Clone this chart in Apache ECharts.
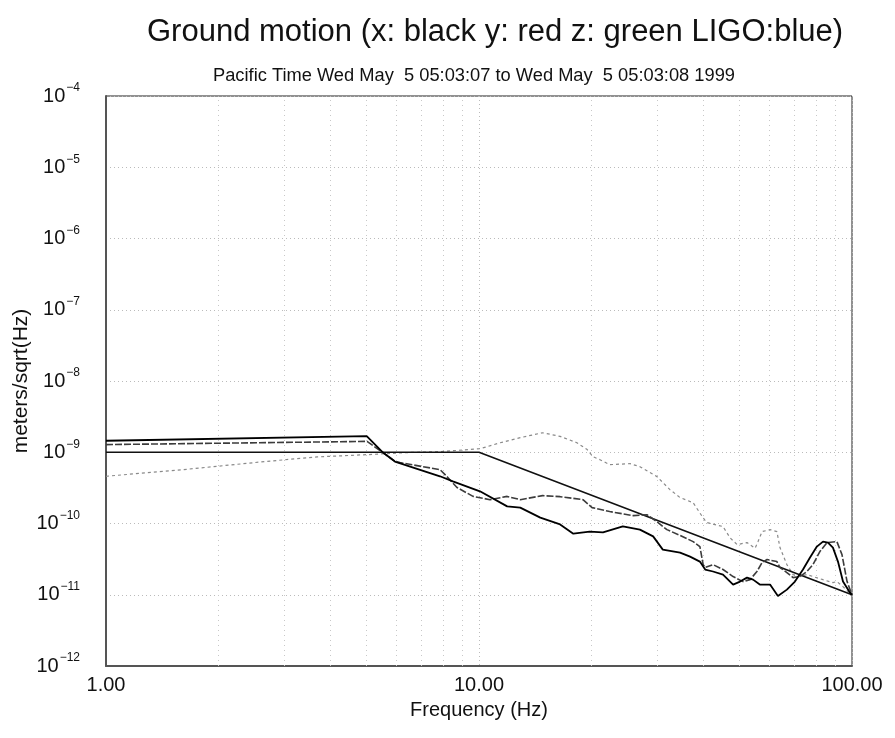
<!DOCTYPE html>
<html><head><meta charset="utf-8">
<script src="https://cdn.jsdelivr.net/npm/echarts@6/dist/echarts.min.js"></script>
<style>html,body{margin:0;padding:0;background:#fff}#chart{width:895px;height:738px}</style>
</head><body><div id="chart"></div>
<script>
const titleText = 'Ground motion (x: black y: red z: green LIGO:blue)';
const subtitleText = 'Pacific Time Wed May  5 05:03:07 to Wed May  5 05:03:08 1999';
const xAxisName = 'Frequency (Hz)';
const yAxisName = 'meters/sqrt(Hz)';
const xRange = [1, 100];
const yRange = [1e-12, 1e-4];

// x: black
const freqX = [1, 5.0, 5.53, 5.95, 7.86, 8.51, 10.06, 11.9, 12.9, 14.6, 16.5, 17.9, 19.8, 21.5, 24.3, 27.0, 29.3, 31.1, 34.6, 36.8, 39.1, 40.4, 42.4, 45.1, 48.0, 50.1, 52.3, 54.3, 56.6, 60.3, 63.3, 66.9, 70.3, 73.9, 77.1, 80.5, 83.6, 86.2, 88.9, 91.7, 94.6, 98.8, 100];
const ampX = [1.45e-9, 1.68e-9, 9.9e-10, 7.4e-10, 4.6e-10, 3.9e-10, 2.83e-10, 1.74e-10, 1.67e-10, 1.21e-10, 9.7e-11, 7.2e-11, 7.7e-11, 7.5e-11, 9.1e-11, 8.2e-11, 6.6e-11, 4.3e-11, 3.9e-11, 3.43e-11, 2.92e-11, 2.26e-11, 2.12e-11, 1.92e-11, 1.39e-11, 1.53e-11, 1.74e-11, 1.63e-11, 1.39e-11, 1.39e-11, 9.6e-12, 1.18e-11, 1.53e-11, 2.26e-11, 3.3e-11, 4.74e-11, 5.57e-11, 5.4e-11, 4.59e-11, 2.92e-11, 1.53e-11, 1.07e-11, 1.0e-11];

// y: red
const freqY = [1, 5.01, 5.95, 6.14, 7.86, 8.11, 8.73, 9.64, 10.7, 11.9, 12.9, 14.8, 16.5, 19.0, 20.1, 22.4, 25.9, 28.2, 30.0, 31.9, 34.6, 37.5, 39.1, 39.9, 40.4, 42.4, 45.1, 48.0, 51.0, 53.3, 55.6, 57.4, 59.2, 62.9, 64.1, 66.9, 69.5, 72.5, 75.7, 78.6, 82.0, 85.7, 91.1, 94.0, 97.0, 100];
const ampY = [1.28e-9, 1.42e-9, 7.5e-10, 7.15e-10, 5.7e-10, 4.85e-10, 3.2e-10, 2.4e-10, 2.16e-10, 2.4e-10, 2.16e-10, 2.46e-10, 2.38e-10, 2.16e-10, 1.67e-10, 1.47e-10, 1.29e-10, 1.33e-10, 1.06e-10, 8.2e-11, 6.8e-11, 5.57e-11, 4.74e-11, 2.65e-11, 2.41e-11, 2.65e-11, 2.26e-11, 1.8e-11, 1.53e-11, 1.63e-11, 2.12e-11, 2.83e-11, 3.12e-11, 2.92e-11, 2.41e-11, 2.05e-11, 1.74e-11, 1.8e-11, 2.12e-11, 2.65e-11, 4.04e-11, 5.4e-11, 5.57e-11, 3.66e-11, 1.53e-11, 1.0e-11];

// z: green
const freqZ = [1, 1.61, 2.70, 3.68, 5.0, 6.41, 7.86, 10.06, 11.4, 12.9, 14.8, 16.5, 18.3, 19.5, 20.2, 21.1, 22.4, 25.4, 27.0, 30.0, 32.5, 34.6, 37.5, 39.9, 40.8, 45.1, 47.1, 49.2, 52.3, 55.0, 56.0, 57.4, 60.3, 62.9, 64.1, 66.9, 69.5, 72.5, 75.7, 78.6, 83.6, 88.9, 91.1, 94.6, 97.6, 100];
const ampZ = [4.6e-10, 5.7e-10, 7.45e-10, 8.6e-10, 9.25e-10, 9.9e-10, 1.02e-9, 1.12e-9, 1.36e-9, 1.6e-9, 1.88e-9, 1.67e-9, 1.36e-9, 1.09e-9, 8.67e-10, 7.87e-10, 6.7e-10, 6.92e-10, 6.28e-10, 4.55e-10, 2.99e-10, 2.31e-10, 1.96e-10, 1.2e-10, 1.03e-10, 9.06e-11, 6.3e-11, 5.06e-11, 5.4e-11, 4.5e-11, 5.6e-11, 7.7e-11, 8.2e-11, 7.7e-11, 4.6e-11, 2.65e-11, 1.92e-11, 1.8e-11, 1.92e-11, 1.8e-11, 1.63e-11, 1.48e-11, 1.53e-11, 1.3e-11, 1.11e-11, 1.0e-11];

// LIGO: blue
const freqLigo = [1, 10, 100];
const ampLigo = [1e-9, 1e-9, 1e-11];

// minor log grid
const minorMultipliers = [2, 3, 4, 5, 6, 7, 8, 9];
const xDecades = [1, 10];
const yDecadeExps = [-12, -11, -10, -9, -8, -7, -6, -5];

const FONT = 'Liberation Sans';
const zip = (a, b) => a.map((v, i) => [v, b[i]]);

const gridMarks = [];
xDecades.forEach(d => minorMultipliers.forEach(m => gridMarks.push({ xAxis: d * m })));
yDecadeExps.forEach(e => minorMultipliers.forEach(m => gridMarks.push({ yAxis: m * Math.pow(10, e) })));

const chart = echarts.init(document.getElementById('chart'), null, { renderer: 'canvas' });
chart.setOption({
  animation: false,
  backgroundColor: '#fff',
  title: [
    { text: titleText, left: 142, top: 12, padding: 5,
      textStyle: { fontFamily: FONT, fontSize: 31, fontWeight: 'normal', color: '#111' } },
    { text: subtitleText, left: 208, top: 62, padding: 5,
      textStyle: { fontFamily: FONT, fontSize: 18.3, fontWeight: 'normal', color: '#111' } }
  ],
  grid: { left: 106, right: 43, top: 96, bottom: 72, containLabel: false, outerBoundsMode: 'none',
    show: true, borderColor: '#222', borderWidth: 1, backgroundColor: 'transparent' },
  xAxis: {
    type: 'log', logBase: 10, min: xRange[0], max: xRange[1],
    name: xAxisName, nameLocation: 'middle', nameGap: 34, nameMoveOverlap: false,
    nameTextStyle: { fontFamily: FONT, fontSize: 20, color: '#111' },
    axisLine: { show: true, lineStyle: { color: '#555', width: 2 } },
    axisTick: { show: false },
    axisLabel: { fontFamily: FONT, fontSize: 20, color: '#111', margin: 9, formatter: v => Number(v).toFixed(2) },
    splitLine: { show: true, lineStyle: { color: '#bbb', type: [1, 3], width: 1 } },
    minorTick: { show: false }, minorSplitLine: { show: false }
  },
  yAxis: {
    type: 'log', logBase: 10, min: yRange[0], max: yRange[1],
    name: yAxisName, nameLocation: 'middle', nameGap: 74, nameRotate: 90, nameMoveOverlap: false,
    nameTextStyle: { fontFamily: FONT, fontSize: 21, color: '#111' },
    axisLine: { show: true, lineStyle: { color: '#555', width: 2 } },
    axisTick: { show: false },
    axisLabel: {
      margin: 26, color: '#111',
      formatter: v => { const e = Math.round(Math.log10(v)); return '{b|10}{s|' + (e < 0 ? '\u2212' : '') + Math.abs(e) + '}'; },
      rich: {
        b: { fontFamily: FONT, fontSize: 20, color: '#111', lineHeight: 28 },
        s: { fontFamily: FONT, fontSize: 12, color: '#111', verticalAlign: 'top', padding: [0, 0, 0, 1] }
      }
    },
    splitLine: { show: true, lineStyle: { color: '#bbb', type: [1, 3], width: 1 } },
    minorTick: { show: false }, minorSplitLine: { show: false }
  },
  series: [
    { name: 'z', type: 'line', data: zip(freqZ, ampZ), showSymbol: false, symbol: 'none', z: 3,
      lineStyle: { color: '#8a8a8a', width: 1.2, type: [3, 3] },
      markLine: { silent: true, symbol: ['none', 'none'], z: 1, animation: false, label: { show: false },
        lineStyle: { color: '#c8c8c8', type: [1, 4], width: 1 }, emphasis: { disabled: true }, data: gridMarks } },
    { name: 'LIGO', type: 'line', data: zip(freqLigo, ampLigo), showSymbol: false, symbol: 'none', z: 4,
      lineStyle: { color: '#111', width: 1.6 } },
    { name: 'y', type: 'line', data: zip(freqY, ampY), showSymbol: false, symbol: 'none', z: 5,
      lineStyle: { color: '#3c3c3c', width: 1.6, type: [7, 2] } },
    { name: 'x', type: 'line', data: zip(freqX, ampX), showSymbol: false, symbol: 'none', z: 6,
      lineStyle: { color: '#000', width: 1.8 } }
  ]
});
</script></body></html>
